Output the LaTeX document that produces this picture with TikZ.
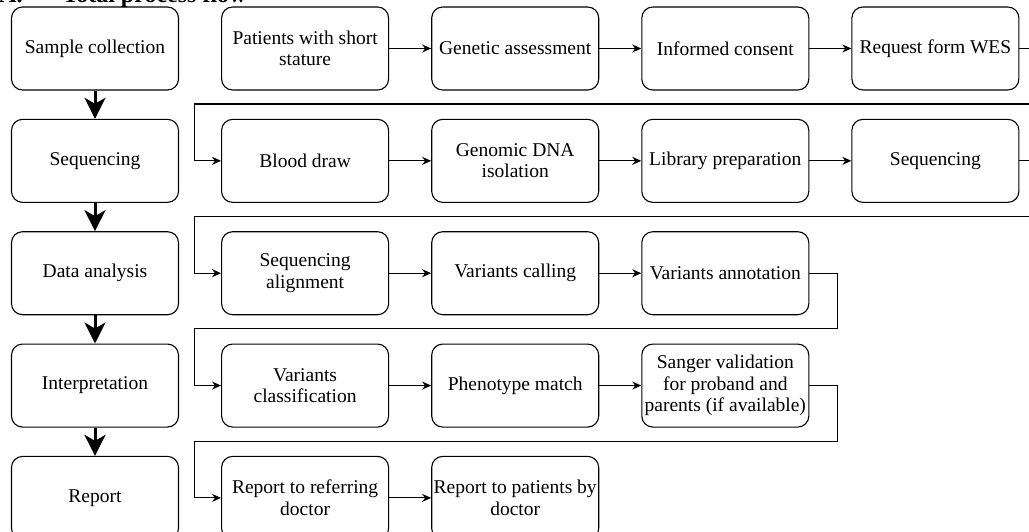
\documentclass[tikz,border=0pt]{standalone}
\usepackage{fontspec}
\setmainfont{Liberation Serif}
\usepackage{tikz}
\usetikzlibrary{positioning}
\usetikzlibrary{arrows.meta}

\begin{document}
\begin{tikzpicture}[x=1pt,y=-1pt,node distance=28.25pt and 42pt,
        box/.style={draw,line width=1.1pt,rounded corners=11pt,minimum width=167pt,minimum height=83pt,inner sep=1pt,align=center,font=\fontsize{19.5}{21.5}\selectfont},
        bigflow/.style={line width=3pt,-{Stealth[length=21pt,width=21pt,inset=6pt]}},
        flow/.style={line width=1.1pt,-{Stealth[length=9pt,width=8pt]}}]
        \useasboundingbox (0,0) rectangle (1029,531);
        \node[anchor=base west,inner sep=0pt,font=\fontsize{24}{28}\selectfont\bfseries] (title) at (-1,2) {A.\hspace{40pt}Total process flow};
        \node[box] (sample) at (95,48.5) {Sample collection};
        \node[box,below=of sample] (seqstep) {Sequencing};
        \node[box,below=of seqstep] (analysis) {Data analysis};
        \node[box,below=of analysis] (interp) {Interpretation};
        \node[box,below=of interp] (report) {Report};
        \node[box,right=of sample] (patients) {Patients with short\\stature};
        \node[box,right=of patients] (genetic) {Genetic assessment};
        \node[box,right=of genetic] (consent) {Informed consent};
        \node[box,right=of consent] (request) {Request form WES};
        \node[box,right=of seqstep] (blood) {Blood draw};
        \node[box,right=of blood] (gdna) {Genomic DNA\\isolation};
        \node[box,right=of gdna] (libprep) {Library preparation};
        \node[box,right=of libprep] (sequencing) {Sequencing};
        \node[box,right=of analysis] (align) {Sequencing\\alignment};
        \node[box,right=of align] (calling) {Variants calling};
        \node[box,right=of calling] (annot) {Variants annotation};
        \node[box,right=of interp] (classif) {Variants\\classification};
        \node[box,right=of classif] (phenotype) {Phenotype match};
        \node[box,right=of phenotype] (sanger) {Sanger validation\\for proband and\\parents (if available)};
        \node[box,right=of report] (referring) {Report to referring\\doctor};
        \node[box,right=of referring] (patrep) {Report to patients by\\doctor};
        \draw[bigflow] (sample) -- (seqstep);
        \draw[bigflow] (seqstep) -- (analysis);
        \draw[bigflow] (analysis) -- (interp);
        \draw[bigflow] (interp) -- (report);
        \draw[flow] (patients) -- (genetic);
        \draw[flow] (genetic) -- (consent);
        \draw[flow] (consent) -- (request);
        \draw[flow] (request.east) -| ++(13,55.5) -| ([xshift=-27pt]blood.west) -- (blood.west);
        \draw[flow] (blood) -- (gdna);
        \draw[flow] (gdna) -- (libprep);
        \draw[flow] (libprep) -- (sequencing);
        \draw[flow] (sequencing.east) -| ++(13,55.5) -| ([xshift=-27pt]align.west) -- (align.west);
        \draw[flow] (align) -- (calling);
        \draw[flow] (calling) -- (annot);
        \draw[flow] (annot.east) -| ++(28,55.5) -| ([xshift=-27pt]classif.west) -- (classif.west);
        \draw[flow] (classif) -- (phenotype);
        \draw[flow] (phenotype) -- (sanger);
        \draw[flow] (sanger.east) -| ++(28,55.5) -| ([xshift=-27pt]referring.west) -- (referring.west);
        \draw[flow] (referring) -- (patrep);
\end{tikzpicture}
\end{document}
